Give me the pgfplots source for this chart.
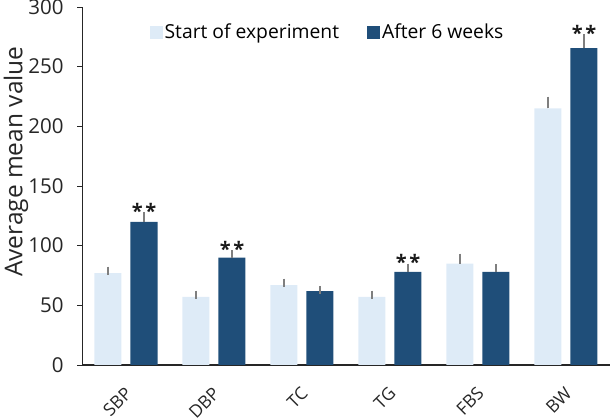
\documentclass[border=0pt]{standalone}
\usepackage{pgfplots}
\pgfplotsset{compat=1.18}
\usepackage{pgfplotstable}
\usepackage{fontspec}
\setmainfont{Open Sans}
\definecolor{lightbar}{HTML}{DEEBF7}
\definecolor{darkbar}{HTML}{1F4E79}
\definecolor{errgray}{HTML}{7F7F7F}
\pgfplotstableread{
x start es after ea
0 77 2 120 4.5
1 57 2 90 3
2 67 2 62 1
3 57 2 78 3.5
4 85 5 78 3
5 215 6.5 265.5 8.5
}\datatable
\begin{document}
\begin{tikzpicture}
\begin{axis}[
  at={(82bp,54bp)}, anchor=south west,
  scale only axis, width=528bp, height=358bp,
  xmin=-0.5, xmax=5.5, ymin=0, ymax=300,
  ytick={0,50,...,300},
  xtick={0,...,5}, xticklabels={SBP,DBP,TC,TG,FBS,BW},
  axis x line*=bottom, axis y line*=left,
  x axis line style={-, line width=1.3bp, color=black!85},
  y axis line style={-, line width=0.9bp, color=black!85},
  major x tick style={draw=none},
  major y tick style={line width=0.9bp, color=black!85},
  tick align=outside, major tick length=5bp,
  ybar, bar width=27bp,
  /pgf/number format/assume math mode=true,
  tick label style={font=\fontsize{17.5bp}{19bp}\selectfont, color=black!85},
  yticklabel style={xshift=-10bp, font=\fontsize{20.5bp}{22bp}\selectfont},
  xticklabel style={xshift=-2bp, yshift=-11bp, rotate=45, anchor=north east},
  ylabel={Average mean value},
  ylabel style={at={(axis description cs:-0.125,0.568)}, anchor=center, font=\fontsize{24.5bp}{26bp}\selectfont, color=black!85},
  legend style={at={(axis description cs:0.465,0.930)}, anchor=center, draw=none, fill=none,
    legend columns=2, font=\fontsize{19.3bp}{21bp}\selectfont,
    /tikz/every even column/.append style={column sep=26bp}},
  legend image code/.code={\draw[#1, draw=none] (0bp,-6.5bp) rectangle (13bp,6.5bp);},
]
\addplot[fill=lightbar, draw=none, bar shift=-18bp,
  error bars/.cd, y dir=plus, y explicit,
  error bar style={color=errgray, line width=1.3bp},
  error mark options={color=errgray, mark size=4bp, line width=1.3bp}]
  table[x=x, y=start, y error=es] {\datatable};
\addplot[fill=darkbar, draw=none, bar shift=18bp,
  error bars/.cd, y dir=plus, y explicit,
  error bar style={color=errgray, line width=1.3bp},
  error mark options={color=errgray, mark size=4bp, line width=1.3bp}]
  table[x=x, y=after, y error=ea] {\datatable};
\addplot[forget plot, draw=none, fill=none, bar shift=18bp,
  nodes near coords={\textbf{*\kern2.5bp*}},
  nodes near coords style={anchor=base, yshift=-2bp, font=\fontsize{20bp}{20bp}\selectfont, color=black!90}]
  coordinates {(0,124.5) (1,93) (3,81.5) (5,274)};
\legend{Start of experiment, After 6 weeks}
\end{axis}
\pgfresetboundingbox
\path[use as bounding box] (0,0) rectangle (611bp,419bp);
\end{tikzpicture}
\end{document}
